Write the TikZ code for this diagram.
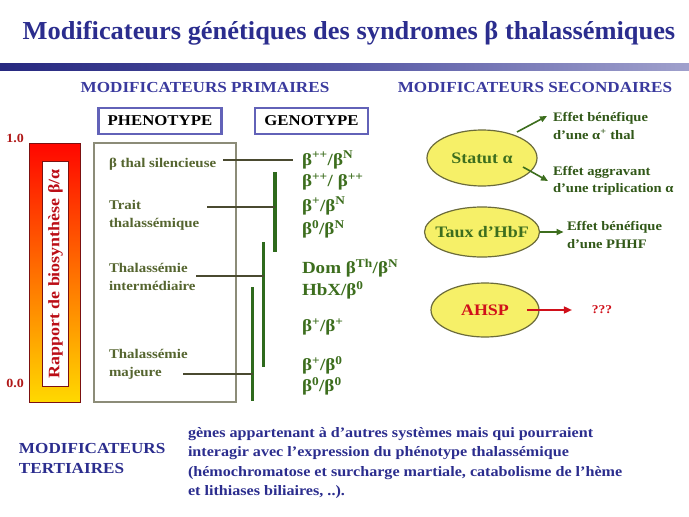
\documentclass[tikz,border=0pt]{standalone}
\usepackage{fontspec}
\setmainfont{Liberation Serif}[FakeStretch=1.12]
\newfontfamily\titlefamily{Liberation Serif}[FakeStretch=1.02]
\usetikzlibrary{arrows.meta,shapes.geometric}
\definecolor{navy}{HTML}{2B2D8E}
\definecolor{secblue}{HTML}{3A3A9E}
\definecolor{boxblue}{HTML}{6262B8}
\definecolor{olive}{HTML}{55652F}
\definecolor{gtgreen}{HTML}{3D6E1E}
\definecolor{bargreen}{HTML}{2E6A1C}
\definecolor{linecol}{HTML}{4A4A30}
\definecolor{framegrey}{HTML}{8C8C78}
\definecolor{darkred}{HTML}{B01818}
\definecolor{ellfill}{HTML}{F6F068}
\definecolor{ellline}{HTML}{6B6B3A}
\definecolor{arrred}{HTML}{D0101A}
\begin{document}
\begin{tikzpicture}[x=1pt,y=-1pt,
  every node/.style={inner sep=0pt, outer sep=0pt},
  titlestyle/.style={text=navy, font=\titlefamily\bfseries\fontsize{25.9}{30}\selectfont},
  sectitle/.style={text=secblue, font=\bfseries\fontsize{15.3}{18}\selectfont},
  headbox/.style={draw=boxblue, line width=2.6pt, fill=white, font=\bfseries\fontsize{15}{18}\selectfont, minimum height=26pt},
  phtext/.style={text=olive, anchor=west, align=left, font=\bfseries\fontsize{13.3}{18}\selectfont},
  gtext/.style={text=gtgreen, anchor=west, font=\bfseries\fontsize{17}{20}\selectfont},
  hline/.style={draw=linecol, line width=1.6pt},
  vbar/.style={draw=bargreen, line width=3.2pt},
  ell/.style={ellipse, draw=ellline, line width=1.2pt, fill=ellfill},
  elltext/.style={font=\bfseries\fontsize{16}{18}\selectfont},
  smalltext/.style={text=gtgreen!80!black, anchor=west, align=left, font=\bfseries\fontsize{13}{17.5}\selectfont},
  garrow/.style={draw=gtgreen, line width=1.6pt, -{Triangle[length=7pt,width=6pt]}},
  rarrow/.style={draw=arrred, line width=1.6pt, -{Triangle[length=8pt,width=7pt]}},
  scaletext/.style={text=darkred, font=\bfseries\fontsize{12.5}{14}\selectfont},
  navytext/.style={text=navy, anchor=west, align=left, font=\bfseries\fontsize{14.4}{19.3}\selectfont},
  navyhead/.style={text=navy, anchor=west, align=left, font=\bfseries\fontsize{15.3}{20}\selectfont}
]
\useasboundingbox[fill=white] (0,0) rectangle (689,517);

% title and rule
\node[titlestyle] (title) at (349,33) {Modificateurs génétiques des syndromes β thalassémiques};
\shade[left color=navy!90!black, right color=navy!45!white, middle color=navy!80!white] (0,63) rectangle (689,70);

% section titles
\node[sectitle] (prim) at (205,88) {MODIFICATEURS PRIMAIRES};
\node[sectitle] (sec) at (535,88) {MODIFICATEURS SECONDAIRES};

% header boxes
\node[headbox, minimum width=123pt] (pheno) at (160,121) {PHENOTYPE};
\node[headbox, minimum width=113pt] (geno) at (311.5,121) {GENOTYPE};

% ratio bar
\shade[top color=red!95!orange, bottom color=orange!30!yellow, draw=darkred!70!black, line width=0.6pt] (29.5,143) rectangle (80.5,402);
\node[draw=darkred!70!black, fill=white, line width=0.6pt, minimum width=26pt, minimum height=225pt] (ratiobox) at (55.5,274) {};
\node[rotate=90, text=arrred!90!black, font=\bfseries\fontsize{16}{18}\selectfont] (ratio) at (ratiobox.center) {Rapport de biosynthèse β/α};
\node[scaletext] (one) at (15,138) {1.0};
\node[scaletext] (zero) at (15,383) {0.0};

% phenotype frame
\node[draw=framegrey, line width=2pt, minimum width=142pt, minimum height=259pt] (frame) at (164.5,272.5) {};

% phenotype labels
\node[phtext] (sil) at (109,164) {β thal silencieuse};
\node[phtext] (trait) at (109,215) {Trait\\thalassémique};
\node[phtext] (inter) at (109,277) {Thalassémie\\intermédiaire};
\node[phtext] (maj) at (109,364) {Thalassémie\\majeure};

% bars
\coordinate (b1t) at (275,172); \coordinate (b1b) at (275,252);
\coordinate (b2t) at (263.5,242); \coordinate (b2b) at (263.5,367);
\coordinate (b3t) at (252.5,287); \coordinate (b3b) at (252.5,401);
\draw[vbar] (b1t) -- (b1b);
\draw[vbar] (b2t) -- (b2b);
\draw[vbar] (b3t) -- (b3b);

% connector lines
\coordinate (s1) at (223,160); \coordinate (e1) at (293,160);
\coordinate (s2) at (207,207);
\coordinate (s3) at (196,276);
\coordinate (s4) at (183,374);
\draw[hline] (s1) -- (e1);
\draw[hline] (s2) -- (s2 -| b1t);
\draw[hline] (s3) -- (s3 -| b2t);
\draw[hline] (s4) -- (s4 -| b3t);

% genotypes
\node[gtext] (g1) at (302,160) {β\textsuperscript{++}/β\textsuperscript{N}};
\node[gtext] (g2) at (302,182) {β\textsuperscript{++}/ β\textsuperscript{++}};
\node[gtext] (g3) at (302,206) {β\textsuperscript{+}/β\textsuperscript{N}};
\node[gtext] (g4) at (302,229) {β\textsuperscript{0}/β\textsuperscript{N}};
\node[gtext] (g5) at (302,268) {Dom β\textsuperscript{Th}/β\textsuperscript{N}};
\node[gtext] (g6) at (302,290) {HbX/β\textsuperscript{0}};
\node[gtext] (g7) at (302,327) {β\textsuperscript{+}/β\textsuperscript{+}};
\node[gtext] (g8) at (302,365) {β\textsuperscript{+}/β\textsuperscript{0}};
\node[gtext] (g9) at (302,386) {β\textsuperscript{0}/β\textsuperscript{0}};

% secondary modifiers
\node[ell, minimum width=110pt, minimum height=56pt] (statut) at (482,158) {};
\node[elltext, text=gtgreen] at (statut.center) {Statut α};
\node[ell, minimum width=115pt, minimum height=50pt] (hbf) at (482,232) {};
\node[elltext, text=gtgreen] at (hbf.center) {Taux d'HbF};
\node[ell, minimum width=108pt, minimum height=54pt] (ahsp) at (485,310) {};
\node[elltext, text=arrred] (ahsptext) at (ahsp.center) {AHSP};

\node[smalltext] (eff1) at (553,126) {Effet bénéfique\\d'une α\textsuperscript{+} thal};
\node[smalltext] (eff2) at (553,181) {Effet aggravant\\d'une triplication α};
\node[smalltext] (eff3) at (567,235) {Effet bénéfique\\d'une PHHF};
\node[text=arrred, font=\bfseries\fontsize{12}{14}\selectfont] (qqq) at (602,310) {???};

\coordinate (a1s) at (517,132); \coordinate (a1e) at (547,116);
\coordinate (a2s) at (523,167); \coordinate (a2e) at (548,181);
\draw[garrow] (a1s) -- (a1e);
\draw[garrow] (a2s) -- (a2e);
\draw[garrow] (hbf.east) -- ++(24,0) coordinate (a3e);
\coordinate (a4s) at (527,310);
\draw[rarrow] (a4s) -- ([xshift=-20pt]qqq.west);

% tertiary
\node[navyhead] (tert) at (19,459) {MODIFICATEURS\\TERTIAIRES};
\node[navytext] (tertdesc) at (188,463) {gènes appartenant à d'autres systèmes mais qui pourraient\\interagir avec l'expression du phénotype thalassémique\\(hémochromatose et surcharge martiale, catabolisme de l'hème\\et lithiases biliaires, ..).};
\end{tikzpicture}
\end{document}
